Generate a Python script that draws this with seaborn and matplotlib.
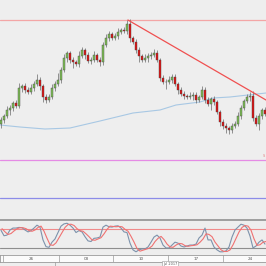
import matplotlib
matplotlib.use("Agg")
import matplotlib.pyplot as plt
import seaborn as sns
import pandas as pd
import numpy as np

# ---------------- data ----------------
closes = [1.1100, 1.1108, 1.1120, 1.1124, 1.1134, 1.1128, 1.1164, 1.1168, 1.1160, 1.1156,
          1.1164, 1.1172, 1.1180, 1.1168, 1.1146, 1.1140, 1.1146, 1.1164, 1.1172, 1.1180,
          1.1200, 1.1224, 1.1234, 1.1220, 1.1216, 1.1212, 1.1228, 1.1240, 1.1230, 1.1218,
          1.1220, 1.1230, 1.1220, 1.1216, 1.1250, 1.1264, 1.1272, 1.1264, 1.1268, 1.1276,
          1.1280, 1.1278, 1.1292, 1.1264, 1.1256, 1.1240, 1.1228, 1.1220, 1.1224, 1.1228,
          1.1230, 1.1234, 1.1220, 1.1184, 1.1176, 1.1176, 1.1180, 1.1186, 1.1172, 1.1160,
          1.1152, 1.1148, 1.1146, 1.1148, 1.1150, 1.1140, 1.1146, 1.1160, 1.1140, 1.1132,
          1.1142, 1.1136, 1.1116, 1.1096, 1.1088, 1.1084, 1.1080, 1.1088, 1.1092, 1.1108,
          1.1124, 1.1138, 1.1146, 1.1148, 1.1104, 1.1092, 1.1108, 1.1120, 1.1112]
first_open = 1.1092
wick_up_pips = [6, 4, 8, 5, 4, 6, 10, 4, 6, 5, 8, 6, 12, 5, 4, 6, 5, 8, 6, 14,
                6, 8, 5, 4, 6, 5, 10, 6, 4, 5, 6, 8, 4, 5, 6, 8, 5, 4, 6, 8,
                5, 6, 8, 10, 4, 6, 5, 4, 8, 6, 5, 8, 6, 4, 5, 6, 8, 5, 6, 4,
                5, 6, 4, 8, 6, 5, 4, 8, 5, 6, 4, 6, 5, 4, 6, 5, 4, 6, 5, 8,
                6, 4, 5, 8, 10, 6, 5, 4, 6]
wick_dn_pips = [8, 6, 4, 10, 6, 5, 4, 8, 6, 5, 4, 6, 5, 8, 10, 6, 5, 4, 6, 5,
                6, 5, 8, 6, 12, 5, 6, 4, 8, 5, 6, 4, 5, 8, 6, 4, 6, 5, 4, 6,
                5, 4, 6, 8, 5, 6, 12, 4, 5, 8, 6, 5, 4, 6, 5, 14, 4, 6, 5, 8,
                4, 6, 5, 4, 8, 6, 5, 4, 6, 5, 12, 6, 5, 8, 6, 10, 8, 6, 5, 4,
                6, 5, 4, 8, 6, 5, 12, 6, 5]

ma_x = [-0.33, 6.33, 14.67, 23, 33, 44, 53, 58.33, 66.33, 70.67, 76.33, 88.33]
ma_y = [1.1090, 1.1086, 1.1082, 1.1084, 1.1098, 1.1114, 1.1120, 1.1130, 1.1136, 1.1144, 1.1146, 1.1154]

resistance = 1.1300
trend_x = [42.3, 88.33]
trend_y = [1.1300, 1.1140]
pink_level = 1.1020
blue_level = 1.0944

stoch_k = [75, 58, 60, 76, 82, 82, 84, 83, 76, 70, 74, 82, 91, 85, 45, 24, 22, 38, 48, 68,
           88, 95, 97, 91, 82, 68, 74, 70, 55, 42, 40, 50, 51, 54, 85, 91, 86, 85, 88, 89,
           82, 70, 68, 35, 14, 8, 14, 17, 17, 23, 38, 54, 60, 51, 29, 20, 20, 29, 38, 35,
           26, 23, 26, 29, 29, 32, 51, 60, 82, 45, 45, 23, 14, 8, 8, 11, 23, 54, 76, 85,
           94, 91, 82, 57, 20, 26, 38, 45, 32]
stoch_d = [80, 70, 62, 65, 73, 80, 83, 83, 80, 74, 72, 76, 84, 88, 72, 50, 30, 28, 36, 52,
           68, 84, 93, 94, 90, 80, 74, 72, 64, 55, 45, 44, 48, 52, 64, 78, 88, 87, 86, 87,
           86, 78, 72, 56, 38, 18, 10, 13, 16, 19, 26, 40, 50, 56, 46, 32, 23, 22, 29, 34,
           33, 27, 25, 27, 28, 30, 38, 48, 64, 62, 55, 38, 26, 14, 9, 9, 14, 30, 50, 70,
           84, 90, 88, 75, 48, 28, 30, 38, 40]
osc_levels = [80, 20]

week_sep = [0.67, 19.33, 37.33, 55.67, 74]
label_pos = [10, 28.33, 46.67, 65, 83]
date_labels = ["26", "03", "10", "17", "24"]

# ---------------- figure ----------------
sns.set_style("white")
plt.rcParams['font.family'] = ['DejaVu Sans']
BG = "#eeeeee"
W = H = 266
fig = plt.figure(figsize=(2.66, 2.66), dpi=100, facecolor=BG)


def px_axes(top, bottom):
    return fig.add_axes([0, (H - bottom) / H, 1, (bottom - top) / H])


XL = (-1 / 3, 88.33)

# main panel
ax = px_axes(0, 219)
ax.set_facecolor(BG)
ax.set_xlim(*XL)
ax.set_ylim(1.134 - 0.0002 * 219, 1.134)

n = len(closes)
idx = np.arange(n)
opens = [first_open] + closes[:-1]
df = pd.DataFrame({"i": idx, "o": opens, "c": closes,
                   "up": wick_up_pips, "dn": wick_dn_pips})
df["hi"] = df[["o", "c"]].max(axis=1) + df["up"] * 0.0001
df["lo"] = df[["o", "c"]].min(axis=1) - df["dn"] * 0.0001

ax.axhline(resistance, color="#f3a6a6", lw=0.9, zorder=1)
ax.axhline(pink_level, color="#e58be5", lw=0.9, zorder=1)
ax.axhline(blue_level, color="#8c8ce8", lw=0.9, zorder=1)
sns.lineplot(x=ma_x, y=ma_y, ax=ax, color="#a8c8e4", lw=0.8, zorder=2, sort=False)

ax.vlines(df["i"], df["lo"], df["hi"], color="#6a6a6a", lw=0.5, zorder=3)
colors = ["#7dbf55" if c >= o else "#e01010" for o, c in zip(df["o"], df["c"])]
ax.bar(df["i"], df["c"] - df["o"], bottom=df["o"], width=0.62, color=colors,
       edgecolor="#4a4a4a", linewidth=0.3, zorder=4)
sns.lineplot(x=trend_x, y=trend_y, ax=ax, color="#f05050", lw=0.9, zorder=5, sort=False)
ax.text(87.5, pink_level + 0.0003, "S", color="#e08080", fontsize=2.5, ha="center", va="bottom")
ax.axis("off")

# separator
sep = px_axes(219, 221)
sep.set_facecolor("#a0a0a0")
sep.set_xticks([]); sep.set_yticks([])
for s in sep.spines.values():
    s.set_visible(False)

# oscillator
ox = px_axes(221, 255)
ox.set_facecolor(BG)
ox.set_xlim(*XL)
ox.set_ylim(-2, 104)
ox.axhline(osc_levels[0], color="#f08a8a", lw=0.8)
ox.axhline(osc_levels[1], color="#8e8e8e", lw=0.8)
sns.lineplot(x=idx, y=stoch_k, ax=ox, color="#7d92ab", lw=0.8)
sns.lineplot(x=idx + 0.35, y=stoch_d, ax=ox, color="#f07272", lw=0.8)
ox.axis("off")

# date band
bx = px_axes(255, 262)
bx.set_facecolor("#fbfbfb")
bx.set_xlim(*XL)
bx.set_ylim(0, 1)
bx.set_xticks([]); bx.set_yticks([])
for s in bx.spines.values():
    s.set_color("#9a9a9a"); s.set_linewidth(0.6)
for xs in week_sep:
    bx.axvline(xs, color="#9a9a9a", lw=0.5)
for xp, lab in zip(label_pos, date_labels):
    bx.text(xp, 0.5, lab, fontsize=3, color="#555555", ha="center", va="center")

fig.text(170 / W, 1 - 264 / H, "Jul 2017", fontsize=2.5, color="#555555",
         ha="center", va="center",
         bbox=dict(boxstyle="square,pad=0.2", fc="#ffffff", ec="#9a9a9a", lw=0.4))
fig.add_artist(plt.Line2D([55 / W, 55 / W], [0, 4 / H], color="#9a9a9a", lw=0.5))

fig.savefig("out.png", dpi=100, facecolor=BG)
